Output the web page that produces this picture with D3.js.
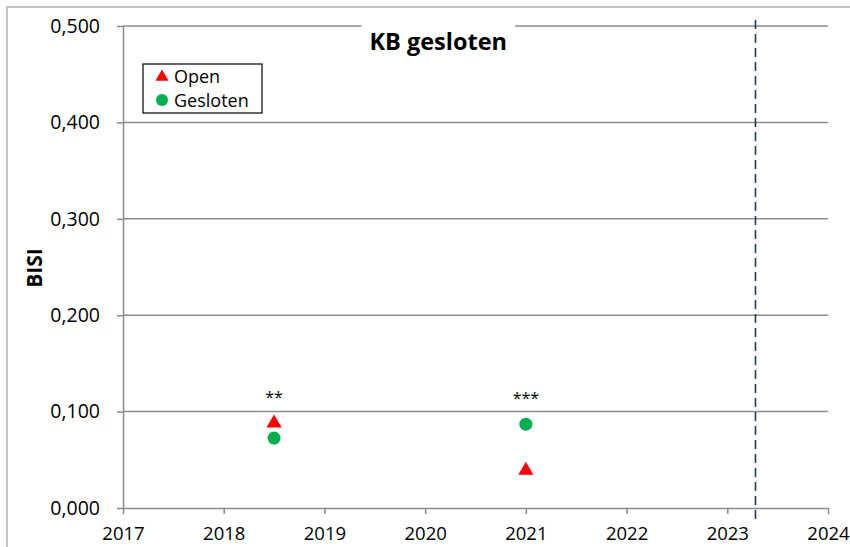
<!DOCTYPE html>
<html lang="nl">
<head>
<meta charset="utf-8">
<title>KB gesloten</title>
<style>
    body { margin: 0; background: #fff; }
    .chart text { font-family: "Open Sans", "Liberation Sans", sans-serif; fill: #000; }
    .grid line { stroke: #8c8c8c; stroke-width: 1.5; }
    .axis path, .axis line { stroke: #8c8c8c; stroke-width: 1.5; }
</style>
</head>
<body>
<svg class="chart" width="850" height="547"></svg>
<script src="https://d3js.org/d3.v7.min.js"></script>
<script>
    // data
    var years = [2018.5, 2021];
    var openValues = [0.088, 0.039];
    var geslotenValues = [0.0725, 0.087];
    var annotations = ["**", "***"];
    var yTicks = [0, 0.1, 0.2, 0.3, 0.4, 0.5];
    var xTicks = [2017, 2018, 2019, 2020, 2021, 2022, 2023, 2024];
    var dashedYear = 2023.28;

    var svg = d3.select('.chart'),
        margin = {left: 123, right: 22, top: 26, bottom: 39},
        w = 850 - margin.left - margin.right,
        h = 547 - margin.top - margin.bottom;

    // outer border
    svg.append('path')
        .attr('d', 'M7,547 L7,7 L850,7')
        .attr('fill', 'none')
        .attr('stroke', '#b0b0b0')
        .attr('stroke-width', 1.5);

    var g = svg.append('g')
        .attr('transform', 'translate(' + margin.left + ',' + margin.top + ')');

    var x = d3.scaleLinear().domain([2017, 2024]).range([0, w]);
    var y = d3.scaleLinear().domain([0, 0.5]).range([h, 0]);

    var fmt = function(d) { return d3.format('.3f')(d).replace('.', ','); };

    // gridlines
    g.append('g').attr('class', 'grid')
        .selectAll('line')
        .data(yTicks.filter(function(d) { return d > 0; }))
        .enter().append('line')
        .attr('x1', 0).attr('x2', w)
        .attr('y1', function(d) { return y(d); })
        .attr('y2', function(d) { return y(d); });

    // y axis
    var yAxis = g.append('g').attr('class', 'axis')
        .call(d3.axisLeft(y).tickValues(yTicks).tickFormat(fmt).tickSize(6).tickSizeOuter(0));
    yAxis.selectAll('text').attr('font-size', 19.5).attr('dx', '-14');

    // x axis
    var xAxis = g.append('g').attr('class', 'axis')
        .attr('transform', 'translate(0,' + h + ')')
        .call(d3.axisBottom(x).tickValues(xTicks).tickFormat(d3.format('d')).tickSize(6).tickSizeOuter(0));
    xAxis.selectAll('text').attr('font-size', 18.5).attr('dy', '1.25em');

    // dashed reference line
    g.append('line')
        .attr('x1', x(dashedYear)).attr('x2', x(dashedYear))
        .attr('y1', -6).attr('y2', h + 11)
        .attr('stroke', '#1f3864')
        .attr('stroke-width', 1.6)
        .attr('stroke-dasharray', '9,5');

    // title with white background
    var titleBg = g.append('rect').attr('fill', '#fff');
    var title = g.append('text')
        .attr('x', x(2020.13)).attr('y', 24)
        .attr('text-anchor', 'middle')
        .attr('font-size', 23.5).attr('font-weight', 'bold')
        .text('KB gesloten');
    var bb = title.node().getBBox();
    titleBg.attr('x', bb.x - 8).attr('y', -4)
        .attr('width', bb.width + 16).attr('height', 10);

    // y label
    svg.append('text')
        .attr('transform', 'translate(42,' + (margin.top + h / 2 + 1) + ') rotate(-90)')
        .attr('text-anchor', 'middle')
        .attr('font-size', 21).attr('font-weight', 'bold')
        .text('BISI');

    var tri = d3.symbol().type(d3.symbolTriangle).size(100);

    // points
    g.selectAll('.open')
        .data(years)
        .enter().append('path')
        .attr('class', 'open')
        .attr('d', tri)
        .attr('fill', '#ff0000')
        .attr('transform', function(d, i) { return 'translate(' + x(d) + ',' + y(openValues[i]) + ')'; });

    g.selectAll('.gesloten')
        .data(years)
        .enter().append('circle')
        .attr('class', 'gesloten')
        .attr('r', 6.5)
        .attr('cx', function(d) { return x(d); })
        .attr('cy', function(d, i) { return y(geslotenValues[i]); })
        .attr('fill', '#00b050');

    // significance marks
    g.selectAll('.sig')
        .data(years)
        .enter().append('text')
        .attr('class', 'sig')
        .attr('x', function(d) { return x(d); })
        .attr('y', function(d, i) { return y(Math.max(openValues[i], geslotenValues[i])) - 20; })
        .attr('text-anchor', 'middle')
        .attr('font-size', 16)
        .text(function(d, i) { return annotations[i]; });

    // legend
    var lg = svg.append('g').attr('transform', 'translate(143,64)');
    lg.append('rect')
        .attr('width', 119).attr('height', 49)
        .attr('fill', '#fff').attr('stroke', '#000').attr('stroke-width', 1.2);
    lg.append('path').attr('d', tri.size(75)).attr('fill', '#ff0000')
        .attr('transform', 'translate(19,13)');
    lg.append('circle').attr('r', 6).attr('cx', 19).attr('cy', 36).attr('fill', '#00b050');
    lg.append('text').attr('x', 31).attr('y', 19).attr('font-size', 18).text('Open');
    lg.append('text').attr('x', 31).attr('y', 43).attr('font-size', 18).text('Gesloten');
</script>
</body>
</html>
